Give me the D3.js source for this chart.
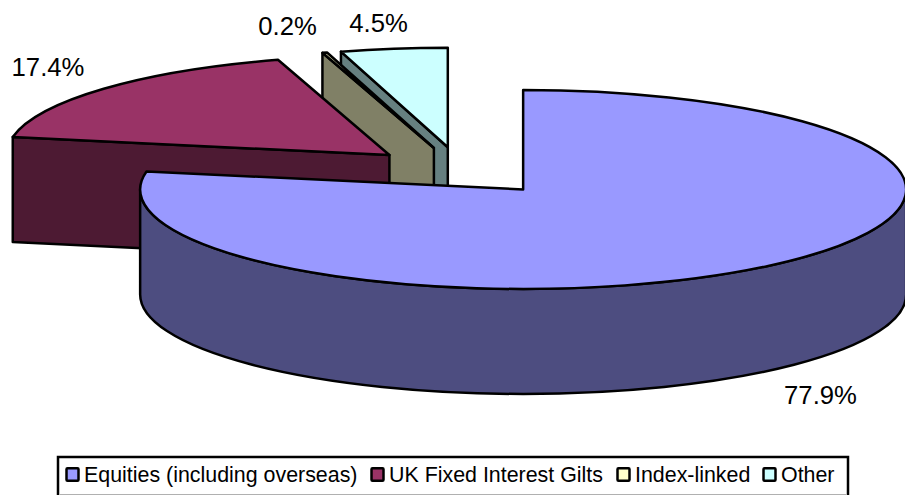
<!DOCTYPE html>
<html>
<head>
<meta charset="utf-8">
<script src="https://cdn.jsdelivr.net/npm/d3@7"></script>
<style>
  html, body { margin: 0; padding: 0; background: #fff; }
  text { font-family: "Liberation Sans", sans-serif; fill: #000; }
</style>
</head>
<body>
<div id="container"></div>
<script>
const categories = ["Equities (including overseas)", "UK Fixed Interest Gilts", "Index-linked", "Other"]
const shares = [77.9, 17.4, 0.2, 4.5]
const labels = ["77.9%", "17.4%", "0.2%", "4.5%"]
const topColors = ["#9999ff", "#993366", "#ffffcc", "#ccffff"]
const sideColors = ["#4d4d80", "#4d1a33", "#808066", "#668080"]

// where the value labels and legend entries sit
const labelPos = [[820.5, 404], [48, 76], [287.5, 35], [378.5, 32]]
const legendX = [66.5, 371.5, 617.5, 763.5]

const width = 905, height = 495
const center = {x: 461.4, y: 171}
const rx = 383, ry = 99.5, depth = 105
const explodeX = 96.5, explodeY = 24

const svg = d3.select("#container").append("svg")
              .attr("width", width)
              .attr("height", height)
              .style("display", "block")

const slices = d3.pie().sort(null).value(d => d)(shares)

// pie angle to screen point, for a slice's own exploded apex
const apexOf = s => {
    const mid = (s.startAngle + s.endAngle) / 2
    return [center.x + explodeX * Math.sin(mid), center.y - explodeY * Math.cos(mid)]
}
const rimPoint = (apex, a) => [apex[0] + rx * Math.sin(a), apex[1] - ry * Math.cos(a)]

const topPath = (s) => {
    const apex = apexOf(s)
    const p0 = rimPoint(apex, s.startAngle), p1 = rimPoint(apex, s.endAngle)
    const large = s.endAngle - s.startAngle > Math.PI ? 1 : 0
    return `M${apex}L${p0}A${rx},${ry} 0 ${large} 1 ${p1}Z`
}

// the straight cut wall on the start side of a slice
const wallPath = (s) => {
    const apex = apexOf(s)
    const p0 = rimPoint(apex, s.startAngle)
    return `M${apex}L${p0}V${p0[1] + depth}L${apex[0]},${apex[1] + depth}Z`
}

// the outer rim wall, only the front half of the ellipse shows
const rimWallPath = (s) => {
    const apex = apexOf(s)
    const a0 = Math.max(s.startAngle, Math.PI / 2), a1 = Math.min(s.endAngle, 3 * Math.PI / 2)
    const p0 = rimPoint(apex, a0), p1 = rimPoint(apex, a1)
    return `M${p0}A${rx},${ry} 0 0 1 ${p1}V${p1[1] + depth}A${rx},${ry} 0 0 0 ${p0[0]},${p0[1] + depth}Z`
}

const pie = svg.append("g")
               .attr("stroke", "#000")
               .attr("stroke-width", 2.5)
               .attr("stroke-linejoin", "round")

// back to front: Other, Index-linked, Gilts, Equities
const order = [3, 2, 1, 0]
order.forEach(i => {
    const s = slices[i]
    if (i === 0) {
        pie.append("path").attr("d", rimWallPath(s)).attr("fill", sideColors[i])
    } else {
        pie.append("path").attr("d", wallPath(s)).attr("fill", sideColors[i])
    }
    pie.append("path").attr("d", topPath(s)).attr("fill", topColors[i])
})

// value labels
svg.selectAll(".label")
   .data(labels)
   .join("text")
   .attr("class", "label")
   .attr("x", (d, i) => labelPos[i][0])
   .attr("y", (d, i) => labelPos[i][1])
   .attr("text-anchor", "middle")
   .attr("font-size", "25.7px")
   .text(d => d)

// legend, box runs off the bottom of the page
svg.append("rect")
   .attr("x", 58).attr("y", 457)
   .attr("width", 790).attr("height", 45)
   .attr("fill", "#fff")
   .attr("stroke", "#000")
   .attr("stroke-width", 2.5)

// only a thin grey line is left of the bottom edge
svg.append("line")
   .attr("x1", 59.5).attr("x2", 846.5)
   .attr("y1", 494.5).attr("y2", 494.5)
   .attr("stroke", "#b0b0b0")
   .attr("stroke-width", 1)

const legend = svg.selectAll(".legend")
                  .data(categories)
                  .join("g")
                  .attr("class", "legend")
                  .attr("transform", (d, i) => `translate(${legendX[i]}, 474.5)`)

legend.append("rect")
      .attr("x", 0).attr("y", -6.25)
      .attr("width", 12).attr("height", 12.5)
      .attr("rx", 1)
      .attr("fill", (d, i) => topColors[i])
      .attr("stroke", "#000")
      .attr("stroke-width", 2.5)

legend.append("text")
      .attr("x", 17.5).attr("y", 7.2)
      .attr("font-size", "21.4px")
      .text(d => d)
</script>
</body>
</html>
